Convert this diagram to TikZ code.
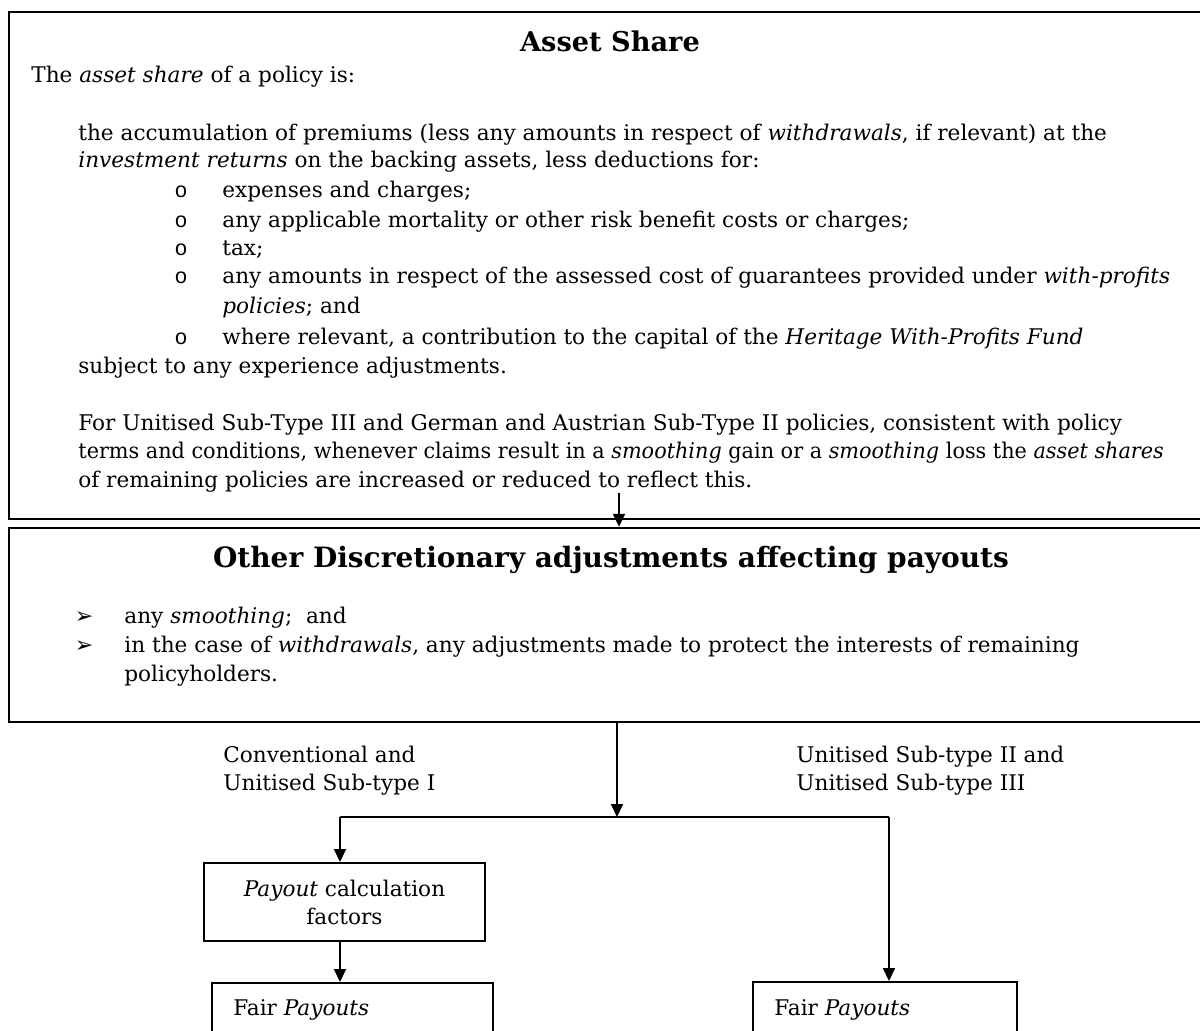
\documentclass[tikz,border=0pt]{standalone}
\usepackage{fontspec}
\setmainfont{DejaVu Serif}
\newfontfamily\bulletfont{Liberation Mono}
\newfontfamily\dingfont{DejaVu Sans}
\usetikzlibrary{arrows.meta,fit,calc}

\begin{document}
\begin{tikzpicture}[x=0.5pt,y=-0.5pt,
  txt/.style={anchor=base west,inner sep=0pt,font=\fontsize{10.8}{14}\selectfont},
  head/.style={anchor=base,inner sep=0pt,font=\fontsize{14}{16}\selectfont\bfseries},
  bullet/.style={anchor=base,inner sep=0pt,font=\fontsize{10.8}{14}\bulletfont},
  ding/.style={anchor=base,inner sep=0pt,font=\fontsize{11}{13}\dingfont},
  frame/.style={draw,line width=1.2pt,inner sep=0pt},
  smallbox/.style={draw,line width=1pt,inner sep=0pt},
  line/.style={line width=0.9pt},
  arr/.style={line width=0.9pt,-{Triangle[length=6.5pt,width=6pt]}}]
\useasboundingbox (0,0) rectangle (1200,1030);
\clip (0,0) rectangle (1200,1030);

% the two wide boxes, running off the right edge
\node[frame,fit={(9,12) (1215,519)}] (asset) {};
\node[frame,fit={(9,528) (1215,722)}] (other) {};

% headings
\node[head,font=\fontsize{13.6}{16}\selectfont\bfseries] (assethead) at (610,51) {Asset Share};
\node[head] (otherhead) at (611,567) {Other Discretionary adjustments affecting payouts};

% text lines of the asset share box
\foreach \x/\y/\texto in {
  31/82/{The \textit{asset share} of a policy is:},
  78/140/{the accumulation of premiums (less any amounts in respect of \textit{withdrawals}, if relevant) at the},
  78/167/{\textit{investment returns} on the backing assets, less deductions for:},
  222/197/{expenses and charges;},
  222/227/{any applicable mortality or other risk benefit costs or charges;},
  222/255/{tax;},
  222/283/{any amounts in respect of the assessed cost of guarantees provided under \textit{with-profits}},
  222/313/{\textit{policies}; and},
  222/344/{where relevant, a contribution to the capital of the \textit{Heritage With-Profits Fund}},
  78/373/{subject to any experience adjustments.},
  78/430/{For Unitised Sub-Type III and German and Austrian Sub-Type II policies, consistent with policy},
  78/458/{\scalebox{0.962}[1]{terms and conditions, whenever claims result in a \textit{smoothing} gain or a \textit{smoothing} loss the \textit{asset shares}}},
  78/487/{of remaining policies are increased or reduced to reflect this.}}
{
\node[txt] (l\y) at (\x,\y) {\texto};
}
% the o bullets
\foreach \y in {197,227,255,283,344}
  \node[bullet] (o\y) at (181,\y) {o};

% text lines of the adjustments box
\foreach \y/\texto in {
  623/{any \textit{smoothing};\ \ and},
  652/{in the case of \textit{withdrawals}, any adjustments made to protect the interests of remaining},
  681/{policyholders.}}
{
\node[txt] (m\y) at (124,\y) {\texto};
}
\foreach \y in {623,652}
  \node[ding] (d\y) at (84,\y) {➢};

% branch labels
\foreach \x/\y/\texto in {
  223/762/{Conventional and},
  223/790/{Unitised Sub-type I},
  796/762/{Unitised Sub-type II and},
  796/790/{Unitised Sub-type III}}
{
\node[txt] (b\x\y) at (\x,\y) {\texto};
}

% the small boxes
\node[smallbox,minimum width=140.5pt,minimum height=39pt,align=center,
  font=\fontsize{10.8}{14}\selectfont] (payout) at (344.5,902) {\textit{Payout} calculation\\factors};
\node[smallbox,fit={(212,983) (493,1100)}] (fairl) {};
\node[smallbox,fit={(753,982) (1017,1100)}] (fairr) {};
\node[txt] (fairltext) at (233,1015) {Fair \textit{Payouts}};
\node[txt] (fairrtext) at (774,1015) {Fair \textit{Payouts}};

% the connectors
\coordinate (drop) at (619,493);
\coordinate (split) at (617,817);
\coordinate (jl) at (340,817);
\coordinate (jr) at (889,817);
\draw[arr] (drop) -- (drop |- other.north);
\draw[arr] (other.south -| split) -- (split);
\draw[line] (jl) -- (jr);
\draw[arr] (jl) -- (jl |- payout.north);
\draw[arr] (payout.south -| jl) -- (jl |- fairl.north);
\draw[arr] (jr) -- (jr |- fairr.north);
\end{tikzpicture}
\end{document}
